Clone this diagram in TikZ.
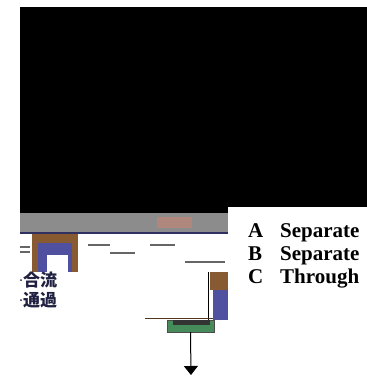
\documentclass[tikz,border=0pt]{standalone}
\usepackage{fontspec}
\setmainfont{Liberation Serif}
\newfontfamily\jpfont{Noto Sans CJK JP}
\usepackage{xcolor}
\usetikzlibrary{arrows.meta, positioning}

\definecolor{bandgray}{RGB}{140,140,140}
\definecolor{boxbrown}{RGB}{135,90,50}
\definecolor{boxblue}{RGB}{80,80,160}
\definecolor{padgreen}{RGB}{70,140,90}
\definecolor{patchpink}{RGB}{175,135,125}

\begin{document}
\begin{tikzpicture}[
            x=1pt, y=-1pt,
            legend/.style={anchor=base west, inner sep=0pt, font=\fontsize{21}{24}\selectfont\bfseries},
            jptext/.style={anchor=base west, inner sep=0pt, text=boxblue!40!black, font=\jpfont\fontsize{17}{19}\selectfont\bfseries},
            pad/.style={rectangle, draw=black!70, fill=padgreen, inner sep=0pt, minimum width=47pt, minimum height=12pt}
        ]
        \useasboundingbox (0,0) rectangle (367,378);

        % Top - dark picture area
        \fill[black] (20,7) rectangle (367,207);
        \fill[black] (20,207) rectangle (228,213);
        \fill[bandgray] (20,213) rectangle (228,232);
        \fill[patchpink] (157,217) rectangle (192,228);
        \draw[boxblue!60!black, line width=1.5pt] (20,233) -- (228,233);

        % Left box
        \fill[boxbrown] (32,234) rectangle (78,272);
        \fill[boxblue] (38,243) rectangle (72,272);
        \fill[white] (47,255) rectangle (68,272);
        \draw[black!60, line width=1.5pt] (20,247) -- (30,247);
        \draw[black!60, line width=1.5pt] (20,252) -- (30,252);
        \draw[black!60, line width=2pt] (88,245) -- (110,245);
        \draw[black!60, line width=2pt] (110,253) -- (135,253);
        \draw[black!60, line width=2pt] (150,245) -- (175,245);
        \draw[black!60, line width=2pt] (185,262) -- (225,262);

        % Right element
        \draw[black, line width=1pt] (208,272) -- (208,320);
        \fill[boxbrown] (210,272) rectangle (228,290);
        \fill[boxblue] (213,290) rectangle (228,320);

        % Bottom pad and outlet
        \draw[boxbrown!60!black, line width=1pt] (145,318) -- (213,318);
        \node[pad] (outlet) at (190.5,326) {};
        \fill[black!80] (173,320) rectangle (210,325);
        \coordinate (drain) at (191,375);
        \draw[-{Triangle[width=14pt,length=9pt]}, line width=1pt] (outlet.south) -- (drain);

        % Labels
        \node[legend] (keyA) at (248,237) {A};
        \node[legend] (keyB) at (248,260) {B};
        \node[legend] (keyC) at (248,283) {C};
        \node[legend] (modeA) at (280,237) {Separate};
        \node[legend] (modeB) at (280,260) {Separate};
        \node[legend] (modeC) at (280,283) {Through};

        \fill[boxblue!40!black] (21,280) circle (1pt);
        \fill[boxblue!40!black] (21,300) circle (1pt);
        \node[jptext] (merge) at (23,286) {合流};
        \node[jptext] (pass) at (23,306) {通過};

    \end{tikzpicture}
\end{document}
